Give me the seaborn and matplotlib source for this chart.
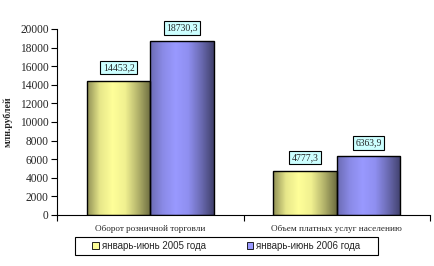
import numpy as np
import pandas as pd
import matplotlib
matplotlib.use("Agg")
import matplotlib.pyplot as plt
import seaborn as sns
from matplotlib.colors import LinearSegmentedColormap
from matplotlib.patches import Patch, Rectangle

categories = ["Оборот розничной торговли", "Объем платных услуг населению"]
series = ["январь-июнь 2005 года", "январь-июнь 2006 года"]
values_2005 = [14453.2, 4777.3]
values_2006 = [18730.3, 6363.9]
value_labels_2005 = ["14453,2", "4777,3"]
value_labels_2006 = ["18730,3", "6363,9"]
y_ticks = [0, 2000, 4000, 6000, 8000, 10000, 12000, 14000, 16000, 18000, 20000]
y_label = "млн.рублей"

df = pd.DataFrame({
    "cat": categories * 2,
    "val": values_2005 + values_2006,
    "period": [series[0]] * 2 + [series[1]] * 2,
})

sns.set_theme(style="white")
plt.rcParams["font.family"] = ["Liberation Serif", "DejaVu Serif"]

W, H = 435, 266
fig = plt.figure(figsize=(W / 100, H / 100), dpi=100)
ax = fig.add_axes([0.131, 0.192, 0.858, 0.699])

solid = ["#FFFF99", "#9999FF"]
sns.barplot(data=df, x="cat", y="val", hue="period", palette=solid,
            width=0.68, edgecolor="black", linewidth=1.0, ax=ax, legend=True)

grads = [
    LinearSegmentedColormap.from_list("y", ["#8f8f55", "#e6e68a", "#ffff99", "#f0f090", "#b3b36b", "#6b6b40"]),
    LinearSegmentedColormap.from_list("b", ["#6b6bb3", "#8a8ae6", "#9999ff", "#8f8ff0", "#6b6bb3", "#40406b"]),
]
grad = np.linspace(0, 1, 256).reshape(1, -1)
for ci, cont in enumerate(ax.containers):
    for bar in cont:
        x0, y0 = bar.get_x(), bar.get_y()
        w, h = bar.get_width(), bar.get_height()
        im = ax.imshow(grad, cmap=grads[ci], aspect="auto",
                       extent=[x0, x0 + w, y0, y0 + h], zorder=bar.get_zorder() + 0.1)
        im.set_clip_path(bar)
        bar.set_facecolor("none")
        bar.set_zorder(bar.get_zorder() + 0.2)

labs = [value_labels_2005, value_labels_2006]
for ci, cont in enumerate(ax.containers):
    for bi, bar in enumerate(cont):
        ax.text(bar.get_x() + bar.get_width() / 2, bar.get_height() + 1400,
                labs[ci][bi], ha="center", va="center", fontsize=7, zorder=5,
                bbox=dict(boxstyle="square,pad=0.25", facecolor="#CCFFFF",
                          edgecolor="black", linewidth=0.8))

ax.set_xlim(-0.5, 1.5)
ax.set_ylim(0, 20000)
ax.set_yticks(y_ticks)
ax.set_yticklabels([str(t) for t in y_ticks], fontsize=8.3)
ax.set_xticks([0, 1])
ax.set_xticklabels(categories, fontsize=6.6)
ax.set_xticks([-0.5, 0.5, 1.5], minor=True)
ax.tick_params(axis="x", which="major", length=0, pad=7)
ax.tick_params(axis="x", which="minor", length=4, width=0.8, color="black", direction="out", bottom=True)
ax.tick_params(axis="y", length=4, width=0.8, color="black", direction="out", left=True, pad=2)
ax.set_xlabel("")
ax.set_ylabel(y_label, fontsize=7, fontweight="bold", labelpad=5)
for s in ["top", "right"]:
    ax.spines[s].set_visible(False)
for s in ["left", "bottom"]:
    ax.spines[s].set_color("black")
    ax.spines[s].set_linewidth(0.8)

ax.legend_.remove()
hs = [Patch(facecolor=solid[i], edgecolor="black", linewidth=0.6) for i in range(2)]
leg = fig.legend(hs, series, loc="center", bbox_to_anchor=(0.52, 1 - 246 / H), ncol=2,
                 frameon=False, prop={"family": "Liberation Sans", "size": 7},
                 handlelength=0.7, handleheight=0.7, handletextpad=0.3,
                 columnspacing=4.2, borderpad=0.3)
fig.patches.append(Rectangle((75 / W, 1 - 255 / H), 303 / W, 18 / H,
                             transform=fig.transFigure, fill=False,
                             edgecolor="black", linewidth=0.8))

fig.savefig("out.png", dpi=100)
